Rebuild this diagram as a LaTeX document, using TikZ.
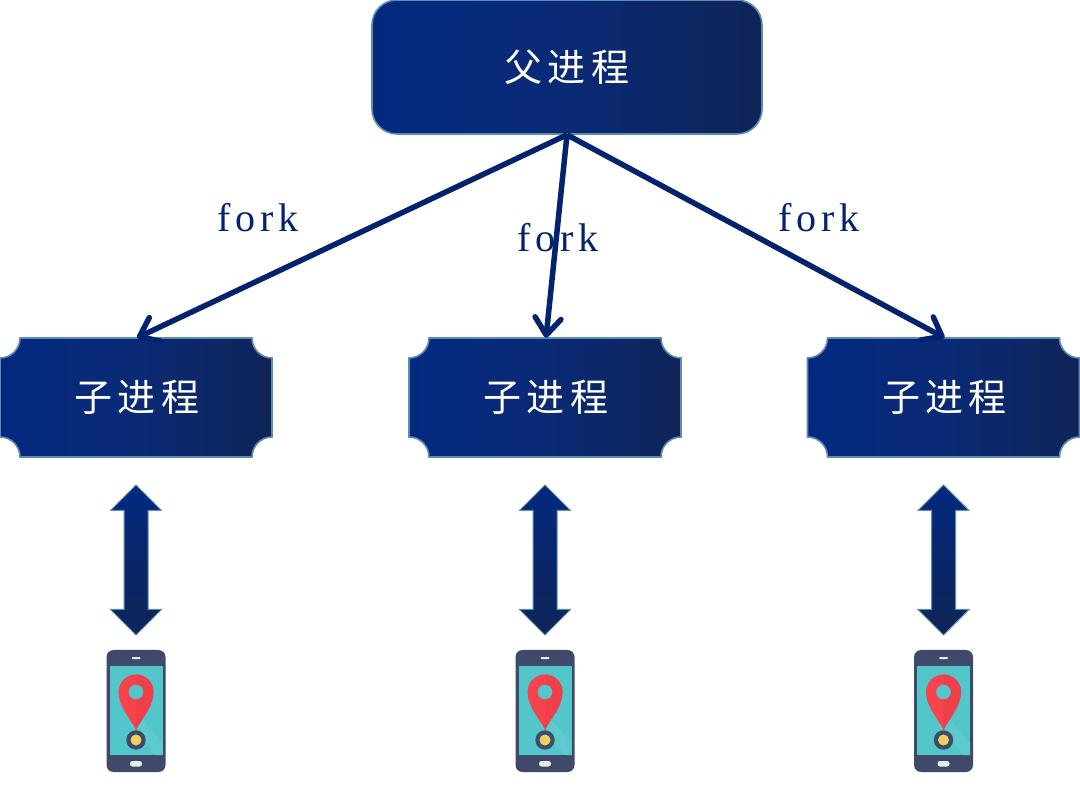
\documentclass[tikz,border=0pt]{standalone}
\usepackage{fontspec}
\newfontfamily\cjkfont[LetterSpace=14]{Noto Sans CJK SC}
\newfontfamily\forkfont[LetterSpace=12]{Liberation Serif}
\usetikzlibrary{arrows.meta, shapes.arrows}
\definecolor{navy}{HTML}{04236E}
\definecolor{boxleft}{HTML}{03297F}
\definecolor{boxmid}{HTML}{0A2A76}
\definecolor{boxright}{HTML}{102457}
\definecolor{boxline}{HTML}{5B8DB3}
\definecolor{phonebody}{HTML}{3F4A6B}
\definecolor{phonescreen}{HTML}{52C6CB}
\definecolor{phonelight}{HTML}{5CCACE}
\definecolor{pinred}{HTML}{F6434D}
\definecolor{pindark}{HTML}{EE3F4A}
\definecolor{pinyellow}{HTML}{ECCF5F}
\tikzset{
    phone/.pic = {
        \fill[phonebody, rounded corners=7pt] (-29.5,-61) rectangle (29.5,61);
        \fill[phonescreen] (-26.5,-44) rectangle (26.5,45);
        \fill[phonelight] (6,-8) -- (26.5,-32) -- (26.5,-44) -- (20,-44) -- (-6,-14) -- cycle;
        \fill[white!85!gray, rounded corners=1pt] (-4.5,52) rectangle (4.5,54);
        \fill[white!85!gray, rounded corners=2.5pt] (-6,-55.5) rectangle (6,-50);
        \fill[pinred] (0,-19) .. controls (-5,-8) and (-17.5,4) .. (-17.5,19)
            arc (180:0:17.5) .. controls (17.5,4) and (5,-8) .. (0,-19) -- cycle;
        \fill[pindark] (0,-19) .. controls (5,-8) and (17.5,4) .. (17.5,19)
            arc (0:90:17.5) -- cycle;
        \fill[phonescreen] (0,19) circle (7.3);
        \fill[phonebody] (0,-29) circle (9.7);
        \fill[pinyellow] (0,-29) circle (5.5);
    }
}
\begin{document}
\begin{tikzpicture}[
        x = 1pt, y = 1pt,
        title/.style = {font=\cjkfont\fontsize{38}{38}\selectfont, text=white},
        parentbox/.style = {title, draw=boxline, line width=1.6pt, rounded corners=25pt,
            left color=boxleft, right color=boxright, middle color=boxmid,
            minimum width=390pt, minimum height=134pt},
        childback/.style = {draw=boxline, line width=1.6pt,
            left color=boxleft, right color=boxright, middle color=boxmid},
        childbox/.style = {title, minimum width=272pt, minimum height=119pt},
        updown/.style = {double arrow, draw=boxline, line width=1pt, shape border rotate=90,
            double arrow head extend=13.5pt, double arrow head indent=0pt,
            minimum height=150pt, inner xsep=11.5pt, inner ysep=0pt,
            top color=boxleft, bottom color=boxright},
        forkline/.style = {color=navy, line width=5.5pt,
            -{Straight Barb[round, length=17pt, width=26pt]}},
        forklabel/.style = {font=\forkfont\fontsize{40}{40}\selectfont, text=navy}
    ]
    \useasboundingbox (0,0) rectangle (1080,807);
    %--- Draw Parent ---%
        \node (parent) [parentbox] at (567,740) {父进程};
    %--- Draw Children ---%
        \foreach \i/\cx in {a/136, b/545, c/943.5}{
            \shadedraw[childback, shift={(\cx,409.5)}] (-116,59.5) -- (116,59.5)
                arc (180:270:20) -- (136,-39.5) arc (90:180:20)
                -- (-116,-59.5) arc (0:90:20) -- (-136,39.5) arc (-90:0:20) -- cycle;
            \node (child\i) [childbox] at (\cx+1,409.5) {子进程};
            \node (link\i) [updown] at (\cx,247) {};
            \pic (phone\i) at (\cx,96) {phone};
        }
    %--- Draw Edges ---%
        \draw[forkline] (parent.south) -- (childa.north);
        \draw[forkline] (parent.south) -- (childb.north);
        \draw[forkline] (parent.south) -- (childc.north);
    %--- Draw Labels ---%
        \node (forka) [forklabel] at (258,589) {fork};
        \node (forkb) [forklabel] at (558,569) {fork};
        \node (forkc) [forklabel] at (819,589) {fork};
\end{tikzpicture}
\end{document}
